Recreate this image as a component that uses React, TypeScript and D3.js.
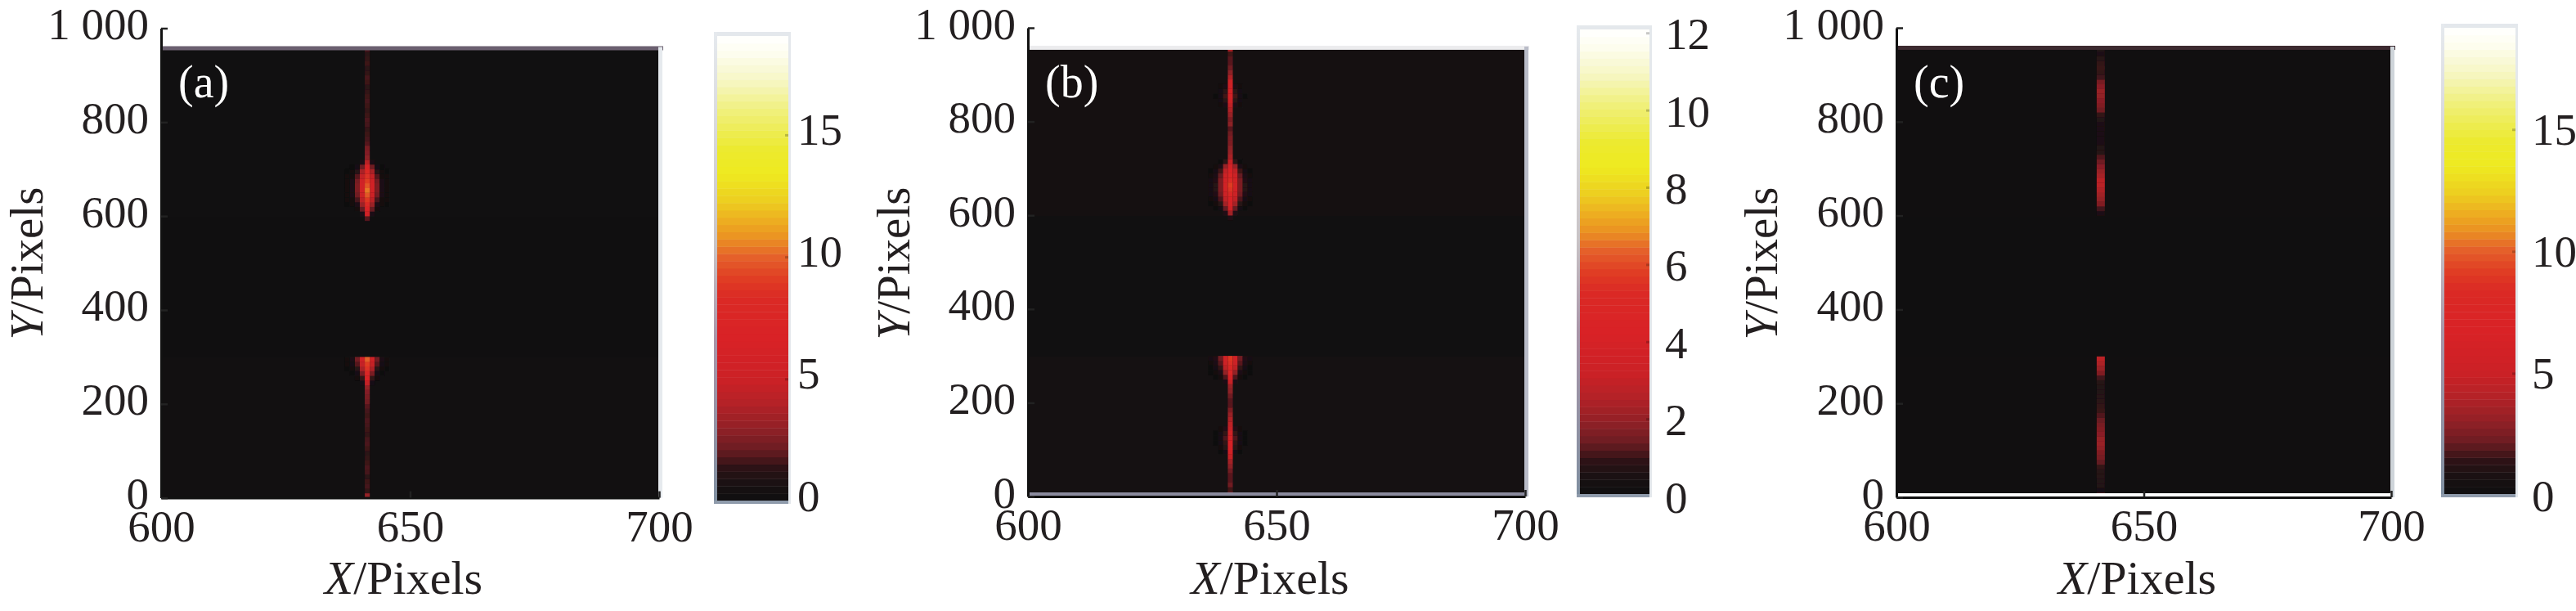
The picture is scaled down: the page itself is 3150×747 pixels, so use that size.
import { useEffect, useRef } from 'react';
import * as d3 from 'd3';

const rampValues = [0, 0.6, 1.3, 2.1, 2.9, 4, 5, 6.7, 8.3, 9.1, 10, 10.7, 11.5, 12.3, 13.4, 14.4, 16, 17.1, 18.3, 19];
const rampColors = ['#0f0f10', '#171112', '#2a1215', '#6b1c22', '#8f2026', '#b52227', '#cc2126', '#d92226', '#db2a25', '#e03e24', '#e5622a', '#ea8f22', '#edb021', '#edd020', '#eeea20', '#ecea30', '#f0f07f', '#f6f6c0', '#fdfdf0', '#ffffff'];

const xTicks = [600, 650, 700];
const yTicks = [0, 200, 400, 600, 800, 1000];
const bandEdges = [0, 300, 600, 960];

// centre column of each streak, one value per 10 px row starting at Y = 0
const aCentre = [
  3, 1.4, 1.6, 1.5, 1.3, 1.6, 1.7, 1.5, 1.4, 1.3,
  1.5, 1.7, 1.6, 1.4, 1.5, 1.6, 1.7, 1.5, 1.6, 1.8,
  2.2, 2.4, 2.6, 3, 4.5, 6.5, 7.8, 8.5, 9, 9.8,
  0, 0, 0, 0, 0, 0, 0, 0, 0, 0,
  0, 0, 0, 0, 0, 0, 0, 0, 0, 0,
  0, 0, 0, 0, 0, 0, 0, 0, 0, 1.8,
  5.5, 7, 8, 8.8, 9.6, 10.2, 9.6, 9, 8.5, 8,
  7, 4, 2.8, 2.6, 2.4, 1.8, 1.6, 1.5, 1.4, 1.6,
  1.7, 1.5, 1.4, 1.5, 1.6, 1.5, 1.4, 1.3, 1.5, 1.6,
  1.4, 1.3, 1.5, 1.4, 1.3, 1.6,
];
const bCentre = [
  2.6, 1, 1.4, 1.2, 1.2, 1.4, 1.8, 2.2, 3, 3.4,
  3.8, 4, 3.8, 3.4, 3, 2.8, 2.4, 2, 1.6, 1.2,
  1.2, 1.4, 1.8, 2, 3, 3.8, 4.6, 5, 5.4, 5.6,
  0, 0, 0, 0, 0, 0, 0, 0, 0, 0,
  0, 0, 0, 0, 0, 0, 0, 0, 0, 0,
  0, 0, 0, 0, 0, 0, 0, 0, 0, 0.6,
  2.2, 3.2, 4, 4.5, 5, 5.5, 5.7, 5.2, 4.8, 4.4,
  3.8, 3, 2.3, 2, 1.8, 1.6, 1.6, 1.4, 1.2, 1.8,
  1.6, 2, 2.4, 2.8, 3.2, 3.6, 3.8, 3.4, 3.2, 2.4,
  1.8, 1.4, 1.2, 1.2, 1, 2.4,
];
const cCentre = [
  2.6, 0.5, 1, 1.1, 1.2, 1.2, 1.4, 2, 2.4, 2.6,
  2.9, 3.2, 3.1, 2.8, 2.6, 2.4, 2.1, 1.8, 1.5, 1.4,
  1.3, 1.2, 1.1, 1.1, 1.2, 1.6, 2.6, 3.2, 3.8, 4.3,
  0, 0, 0, 0, 0, 0, 0, 0, 0, 0,
  0, 0, 0, 0, 0, 0, 0, 0, 0, 0,
  0, 0, 0, 0, 0, 0, 0, 0, 0, 0,
  0.8, 1.6, 2.6, 3, 3.4, 3.8, 4.2, 4.2, 3.6, 3.2,
  2.8, 2.2, 1.8, 1.2, 1, 0.8, 0.7, 0.7, 0.8, 0.9,
  1, 1.4, 2.2, 2.6, 2.8, 3, 3.2, 2.8, 2.4, 1.6,
  1.4, 1.5, 1.4, 1.2, 0.9, 1,
];

// columns either side of the streak, only on the rows where they show
const aSideY = [240, 250, 260, 270, 280, 290, 590, 600, 610, 620, 630, 640, 650, 660, 670, 680, 690, 700, 710];
const aSide1 = [0.5, 1.4, 2.4, 3.6, 4.6, 5.2, 0, 0.8, 2, 3.2, 4.2, 5, 5.6, 5.6, 5.2, 4.6, 3.6, 2.2, 0.8];
const aSide2 = [0, 0.2, 0.6, 1.2, 1.8, 2.2, 0, 0, 0.4, 0.9, 1.6, 2.2, 2.5, 2.5, 2.3, 1.8, 1.2, 0.5, 0];
const aSide3 = [0, 0, 0.1, 0.3, 0.6, 0.9, 0, 0, 0, 0.2, 0.4, 0.7, 0.9, 0.9, 0.7, 0.4, 0.2, 0.1, 0];
const aSide4 = [0, 0, 0, 0.1, 0.2, 0.4, 0, 0, 0, 0.1, 0.2, 0.3, 0.4, 0.4, 0.3, 0.2, 0.1, 0, 0];

const bSideY = [90, 100, 110, 120, 130, 140, 240, 250, 260, 270, 280, 290, 600, 610, 620, 630, 640, 650, 660, 670, 680, 690, 700, 710, 830, 840, 850, 860, 870];
const bSide1 = [0.4, 0.7, 0.9, 1.1, 0.9, 0.6, 0.5, 1.1, 1.9, 2.7, 3.2, 3.4, 0.6, 1.3, 2.2, 2.8, 3.2, 3.5, 3.6, 3.5, 3.2, 2.8, 2, 0.8, 0.5, 0.8, 1, 0.8, 0.5];
const bSide2 = [0.1, 0.2, 0.3, 0.4, 0.3, 0.2, 0, 0.2, 0.5, 0.9, 1.2, 1.4, 0, 0.3, 0.7, 1.1, 1.4, 1.6, 1.6, 1.6, 1.3, 1, 0.5, 0.1, 0.2, 0.3, 0.4, 0.3, 0.2];
const bSide3 = [0, 0, 0.1, 0.1, 0.1, 0, 0, 0.1, 0.2, 0.3, 0.5, 0.6, 0, 0.1, 0.2, 0.4, 0.6, 0.7, 0.7, 0.6, 0.5, 0.3, 0.2, 0, 0, 0, 0.1, 0, 0];
const bSide4 = [0, 0, 0, 0, 0, 0, 0, 0, 0.1, 0.1, 0.2, 0.3, 0, 0, 0.1, 0.2, 0.3, 0.3, 0.3, 0.3, 0.2, 0.1, 0, 0, 0, 0, 0, 0, 0];

const panels = [
  {
    label: '(a)', centre: aCentre, sideY: aSideY, side: [aSide1, aSide2, aSide3, aSide4],
    bands: [0.22, 0.1, 0.18], max: 18.8, barTicks: [0, 5, 10, 15], streakX: 641.4, cols: 1,
    x0: 197, x1: 806, y0: 608.6, y1: 34.5, barX: 877, barX1: 964, barTop: 44, barBottom: 612, barZero: 605, barLabelX: 975, blip: 8,
    topBand: '#6b6070', rightEdge: '#e6eaee', bottomEdge: 'none', yTitleX: 52,
  },
  {
    label: '(b)', centre: bCentre, sideY: bSideY, side: [bSide1, bSide2, bSide3, bSide4],
    bands: [0.3, 0.1, 0.28], max: 12.1, barTicks: [0, 2, 4, 6, 8, 10, 12], streakX: 640.7, cols: 1,
    x0: 1257, x1: 1865, y0: 607, y1: 34, barX: 1932, barX1: 2017, barTop: 36, barBottom: 604, barZero: 607, barLabelX: 2036, blip: 0,
    topBand: '#ececee', rightEdge: '#b9bcc8', bottomEdge: '#8b8b9e', yTitleX: 1112,
  },
  {
    label: '(c)', centre: cCentre, sideY: [], side: [],
    bands: [0.15, 0.1, 0.15], max: 19.15, barTicks: [0, 5, 10, 15], streakX: 641.3, cols: 2,
    x0: 2319, x1: 2924, y0: 608, y1: 34, barX: 2989, barX1: 3076, barTop: 34, barBottom: 604, barZero: 605, barLabelX: 3096, blip: 1,
    topBand: '#3d2a30', rightEdge: '#cfd5da', bottomEdge: '#ffffff', yTitleX: 2173,
  },
];

const serif = '"Liberation Serif", serif';
const fontSize = 55;
const ink = '#231f20';

export default function App() {
  const ref = useRef<SVGSVGElement>(null);

  useEffect(() => {
    if (!ref.current) return;
    const svg = d3.select(ref.current);
    svg.selectAll('*').remove();

    const defs = svg.append('defs');
    defs.append('filter').attr('id', 'soft')
      .append('feGaussianBlur').attr('stdDeviation', 0.7);
    const edge = defs.append('linearGradient').attr('id', 'barEdge').attr('x1', 0).attr('x2', 0).attr('y1', 0).attr('y2', 1);
    [['0', '#e6eaee'], ['0.45', '#c9c4c6'], ['0.65', '#a995a8'], ['1', '#7f8fa0']].forEach(([o, c]) => {
      edge.append('stop').attr('offset', o).attr('stop-color', c);
    });

    panels.forEach((p, pi) => {
      const x = d3.scaleLinear().domain([600, 700]).range([p.x0, p.x1]);
      const y = d3.scaleLinear().domain([0, 1000]).range([p.y0, p.y1]);
      const color = d3.scaleLinear<string>()
        .domain(rampValues.map((v) => (v * p.max) / 19))
        .range(rampColors)
        .clamp(true);

      const g = svg.append('g');
      const clipId = `clip${pi}`;
      defs.append('clipPath').attr('id', clipId)
        .append('rect')
        .attr('x', x(600)).attr('width', x(700) - x(600))
        .attr('y', y(960)).attr('height', y(0) - y(960));

      // background bands, the middle one is darker; drawn top-down with overlap so no seam shows
      g.selectAll('rect.band').data(p.bands).join('rect')
        .attr('class', 'band')
        .attr('x', x(600)).attr('width', x(700) - x(600))
        .attr('y', (_, i) => Math.round(y(bandEdges[i + 1])))
        .attr('height', (_, i) => Math.round(y(bandEdges[i])) - Math.round(y(bandEdges[i + 1])) + 1)
        .attr('fill', (d) => color(d));

      const heat = g.append('g').attr('clip-path', `url(#${clipId})`).append('g').attr('filter', 'url(#soft)');
      const cellH = y(0) - y(10);
      const cellW = x(601) - x(600);

      // side columns first so the centre sits on top
      p.side.forEach((vals, k) => {
        [-1, 1].forEach((sign) => {
          heat.append('g').selectAll('rect').data(vals).join('rect')
            .attr('x', x(p.streakX + sign * (k + 1) - 0.5))
            .attr('width', cellW)
            .attr('y', (_, i) => y(p.sideY[i] + 10))
            .attr('height', cellH + 0.3)
            .attr('fill', (d) => color(d))
            .attr('opacity', (d) => (d > 0 ? 1 : 0));
        });
      });

      const w = p.cols === 2 ? cellW * 1.65 : cellW;
      heat.append('g').selectAll('rect').data(p.centre).join('rect')
        .attr('x', x(p.streakX) - w / 2)
        .attr('width', w)
        .attr('y', (_, i) => y((i + 1) * 10))
        .attr('height', cellH + 0.3)
        .attr('fill', (d) => color(d))
        .attr('opacity', (d) => (d > 0 ? 1 : 0));

      // scan edges left over around the image
      g.append('rect').attr('x', x(600)).attr('y', y(960) - 1).attr('width', x(700) - x(600) + 5).attr('height', 5).attr('fill', p.topBand);
      g.append('rect').attr('x', x(700) - 1).attr('y', y(960)).attr('width', 5).attr('height', y(0) - y(960)).attr('fill', p.rightEdge);
      if (p.bottomEdge !== 'none') {
        g.append('rect').attr('x', x(600)).attr('y', y(0) - 5).attr('width', x(700) - x(600)).attr('height', 4).attr('fill', p.bottomEdge);
      }

      const xAxis = d3.axisBottom(x).tickValues(xTicks).tickSize(-8).tickSizeOuter(0).tickPadding(14).tickFormat((d) => String(d));
      const yAxis = d3.axisLeft(y).tickValues(yTicks).tickSize(-8).tickSizeOuter(0).tickPadding(15)
        .tickFormat((d) => (d === 1000 ? '1 000' : String(d)));

      const gx = g.append('g').attr('transform', `translate(0,${y(0)})`).call(xAxis);
      const gy = g.append('g').attr('transform', `translate(${x(600)},0)`).call(yAxis);
      [gx, gy].forEach((a) => {
        a.attr('font-family', serif).attr('font-size', fontSize);
        a.selectAll('.domain').attr('stroke', '#111').attr('stroke-width', 3);
        a.selectAll('.tick line').attr('stroke', '#222').attr('stroke-width', 2.5);
        a.selectAll('text').attr('fill', ink);
      });
      gy.selectAll('.tick text').attr('dy', 13);
      gx.selectAll('.tick text').attr('dy', '0.71em');

      svg.append('text')
        .attr('x', x(600) + 21).attr('y', 119)
        .attr('font-family', serif).attr('font-size', 56).attr('fill', '#fff')
        .text(p.label);

      const xTitle = g.append('text')
        .attr('x', (x(600) + x(700)) / 2 - 8).attr('y', 726)
        .attr('text-anchor', 'middle')
        .attr('font-family', serif).attr('font-size', 58).attr('fill', ink);
      xTitle.append('tspan').attr('font-style', 'italic').text('X');
      xTitle.append('tspan').text('/Pixels');

      const yTitle = g.append('text')
        .attr('transform', `translate(${p.yTitleX},322) rotate(-90)`)
        .attr('text-anchor', 'middle')
        .attr('font-family', serif).attr('font-size', 57).attr('fill', ink);
      yTitle.append('tspan').attr('font-style', 'italic').text('Y');
      yTitle.append('tspan').text('/Pixels');

      // colour bar: stepped like the original, 64 levels
      const bar = d3.scaleLinear().domain([0, p.max]).range([p.barZero, p.barTop]);
      const levels = d3.range(64);
      const stepH = (p.barBottom - p.barTop) / 64;
      g.append('rect').attr('x', p.barX - 4).attr('y', p.barTop - 5).attr('width', p.barX1 - p.barX + 7).attr('height', p.barBottom - p.barTop + 9).attr('fill', '#e4e8ec');
      g.append('g').selectAll('rect').data(levels).join('rect')
        .attr('x', p.barX)
        .attr('width', p.barX1 - p.barX)
        .attr('y', (d) => p.barBottom - (d + 1) * stepH)
        .attr('height', stepH + 0.4)
        .attr('fill', (d) => color(((d + 0.5) / 64) * p.max));
      g.append('rect').attr('x', p.barX - 4).attr('y', p.barTop - 5).attr('width', 4).attr('height', p.barBottom - p.barTop + 9).attr('fill', 'url(#barEdge)');
      g.append('rect').attr('x', p.barX - 4).attr('y', p.barBottom).attr('width', p.barX1 - p.barX + 4).attr('height', 4).attr('fill', '#8f9bab');

      // small tick blips on the bar's right edge
      g.append('g').selectAll('rect').data(p.barTicks.filter((t) => t > 0)).join('rect')
        .attr('x', p.barX1 - 4)
        .attr('width', 4)
        .attr('y', (d) => bar(d) + p.blip - 1.5)
        .attr('height', 3)
        .attr('fill', '#000')
        .attr('opacity', 0.22);

      const barAxis = d3.axisRight(bar).tickValues(p.barTicks).tickSize(0).tickPadding(0).tickFormat((d) => String(d));
      const gb = g.append('g').attr('transform', `translate(${p.barLabelX},0)`).call(barAxis);
      gb.attr('font-family', serif).attr('font-size', fontSize);
      gb.select('.domain').remove();
      gb.selectAll('text').attr('fill', ink).attr('dy', 19);
    });
  }, []);

  return (
    <svg
      ref={ref}
      width={3150}
      height={747}
      viewBox="0 0 3150 747"
      style={{ position: 'absolute', left: 0, top: 0, display: 'block', background: '#fff' }}
    />
  );
}
